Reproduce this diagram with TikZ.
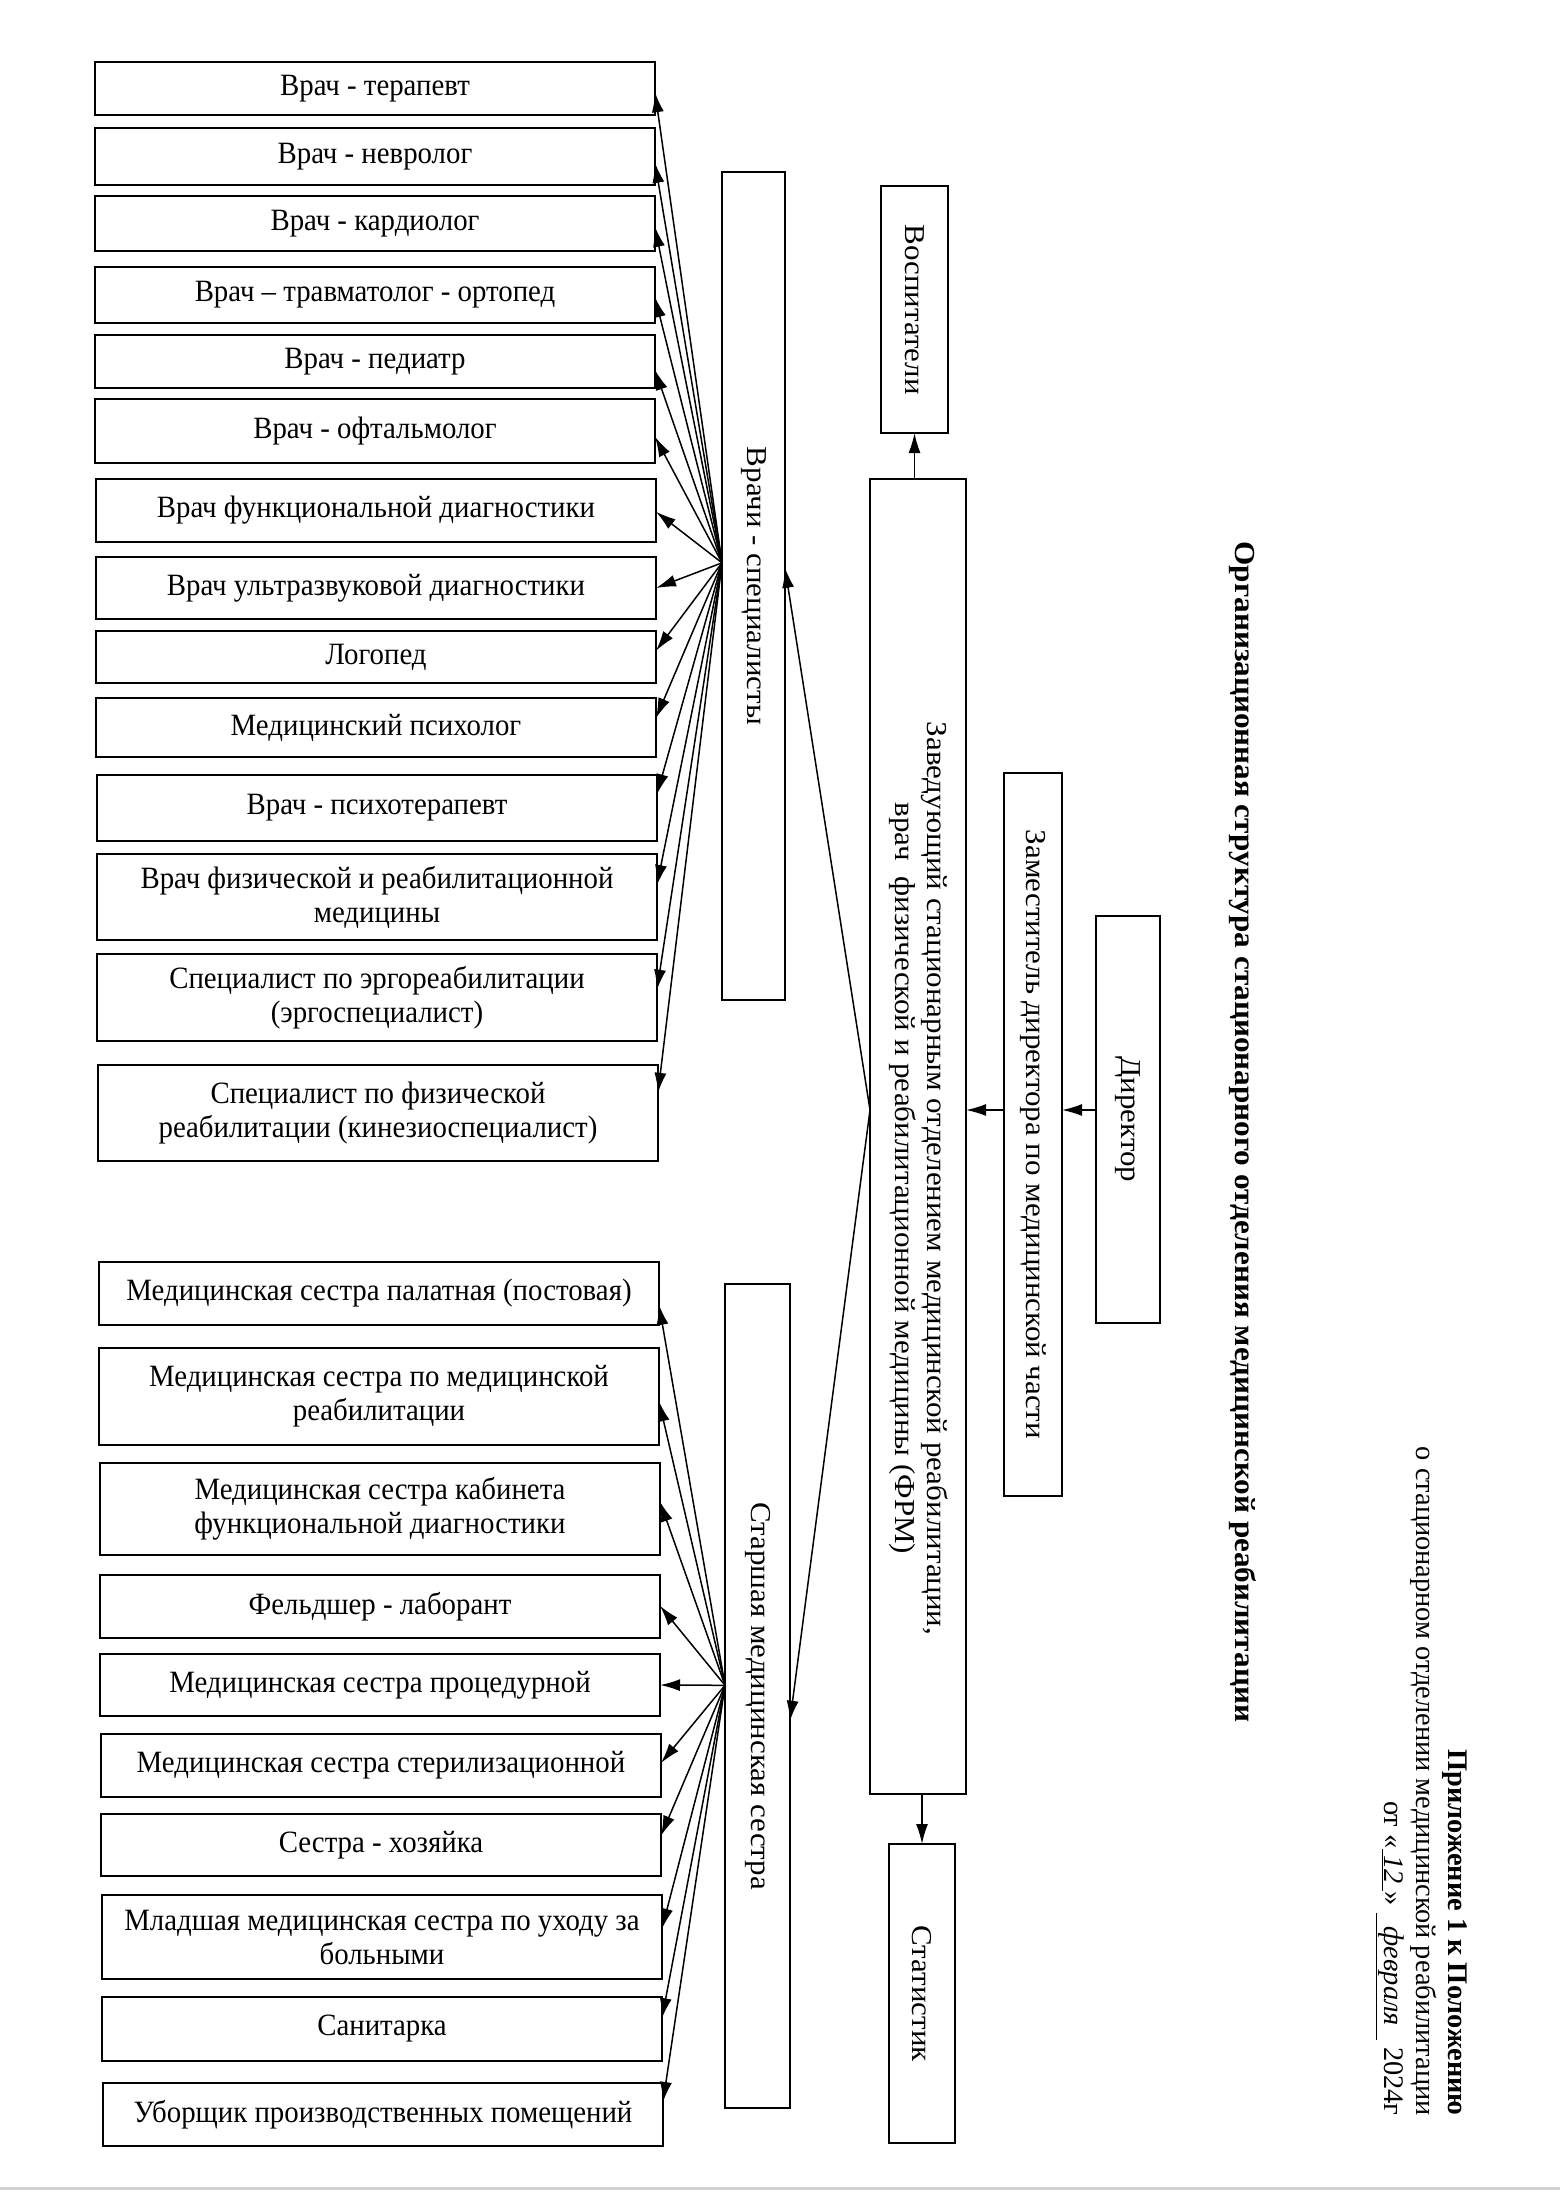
\documentclass[tikz,border=0pt]{standalone}
\usepackage{fontspec}
\setmainfont{Liberation Serif}
\newfontfamily\hfont{Liberation Serif}[FakeStretch=0.93]
\usetikzlibrary{arrows.meta,calc}
\newcommand{\mkbox}[6]{\node[box, minimum width={(#4-#2)*0.5pt}, minimum height={(#5-#3)*0.5pt}] (#1) at ({(#2+#4)/2},{(#3+#5)/2}) {#6};}
\newcommand{\vtext}[1]{\rotatebox{-90}{\scalebox{1}[0.93]{#1}}}
\begin{document}
\begin{tikzpicture}[x=0.5pt,y=-0.5pt,
  box/.style={draw, line width=1pt, inner sep=0pt, outer sep=0pt, align=center, font=\fontsize{15.5}{17}\selectfont\hfont},
  arr/.style={line width=0.75pt, -{Latex[length=10pt,width=6pt]}}]
\useasboundingbox (0,0) rectangle (1560,2200);
% doctors
\mkbox{d1}{95}{62}{655}{115}{Врач - терапевт}
\mkbox{d2}{95}{128}{655}{185}{Врач - невролог}
\mkbox{d3}{95}{196}{655}{251}{Врач - кардиолог}
\mkbox{d4}{95}{267}{655}{323}{Врач – травматолог - ортопед}
\mkbox{d5}{95}{335}{655}{388}{Врач - педиатр}
\mkbox{d6}{95}{399}{655}{463}{Врач - офтальмолог}
\mkbox{d7}{96}{479}{656}{542}{Врач функциональной диагностики}
\mkbox{d8}{96}{557}{656}{619}{Врач ультразвуковой диагностики}
\mkbox{d9}{96}{631}{656}{683}{Логопед}
\mkbox{d10}{96}{698}{656}{757}{Медицинский психолог}
\mkbox{d11}{97}{775}{657}{841}{Врач - психотерапевт}
\mkbox{d12}{97}{854}{657}{940}{Врач физической и реабилитационной\\медицины}
\mkbox{d13}{97}{954}{657}{1041}{Специалист по эргореабилитации\\(эргоспециалист)}
\mkbox{d14}{98}{1065}{658}{1161}{Специалист по физической\\реабилитации (кинезиоспециалист)}
% nurses
\mkbox{n1}{99}{1262}{659}{1325}{Медицинская сестра палатная (постовая)}
\mkbox{n2}{99}{1348}{659}{1445}{Медицинская сестра по медицинской\\реабилитации}
\mkbox{n3}{100}{1463}{660}{1555}{Медицинская сестра кабинета\\функциональной диагностики}
\mkbox{n4}{100}{1575}{660}{1638}{Фельдшер - лаборант}
\mkbox{n5}{100}{1654}{660}{1716}{Медицинская сестра процедурной}
\mkbox{n6}{101}{1734}{661}{1797}{Медицинская сестра стерилизационной}
\mkbox{n7}{101}{1814}{661}{1876}{Сестра - хозяйка}
\mkbox{n8}{102}{1895}{662}{1979}{Младшая медицинская сестра по уходу за\\больными}
\mkbox{n9}{102}{1997}{662}{2061}{Санитарка}
\mkbox{n10}{103}{2083}{663}{2146}{Уборщик производственных помещений}
% central column
\tikzset{box/.append style={font=\fontsize{15.5}{17}\selectfont\rmfamily}}
\mkbox{vrachi}{722}{172}{785}{1000}{\vtext{Врачи - специалисты}}
\mkbox{vosp}{881}{186}{948}{433}{\vtext{Воспитатели}}
\mkbox{zav}{870}{479}{966}{1794}{\vtext{\hspace*{42pt}\begin{tabular}{@{}c@{}}Заведующий стационарным отделением медицинской реабилитации,\\врач\ \ физической и реабилитационной медицины (ФРМ)\end{tabular}}}
\mkbox{zam}{1004}{773}{1062}{1496}{\vtext{Заместитель директора по медицинской части}}
\mkbox{dir}{1096}{916}{1160}{1323}{\vtext{Директор}}
\mkbox{stat}{889}{1844}{955}{2143}{\vtext{Статистик}}
\mkbox{starsh}{725}{1284}{790}{2108}{\vtext{Старшая медицинская сестра}}
% title and note
\node[rotate=-90, font=\fontsize{15.6}{17}\selectfont\bfseries] (title) at (1243,1132) {\scalebox{1}[0.93]{Организационная структура стационарного отделения медицинской реабилитации}};
\node[rotate=-90, anchor=north east, align=right, inner sep=0pt, font=\fontsize{14.2}{16}\selectfont] (note) at (1468,2116)
  {{\bfseries Приложение 1 к Положению}\\о стационарном отделении медицинской реабилитации\\от «\underline{\itshape\ 12\ }» \underline{\itshape\ \ февраля\ \ } 2024г};
% connectors
\coordinate (lvl) at (0,1110);
\draw[arr] (dir.west |- lvl) -- (zam.east |- lvl);
\draw[arr] (zam.west |- lvl) -- (zav.east |- lvl);
\draw[arr] (vosp.south |- zav.north) -- (vosp.south);
\draw[arr] (stat.north |- zav.south) -- (stat.north);
\draw[arr] (zav.west |- lvl) -- ($(vrachi.north east)!0.478!(vrachi.south east)$);
\draw[arr] (zav.west |- lvl) -- ($(starsh.north east)!0.53!(starsh.south east)$);
\coordinate (fanD) at ($(vrachi.north west)!0.472!(vrachi.south west)$);
\foreach \n/\f in {d1/0.57,d2/0.61,d3/0.56,d4/0.54,d5/0.66,d6/0.59,d7/0.52,d8/0.5,d9/0.38,d10/0.34,d11/0.29,d12/0.36,d13/0.41,d14/0.29}
  \draw[arr] (fanD) -- ($(\n.north east)!\f!(\n.south east)$);
\coordinate (fanN) at ($(starsh.north west)!0.487!(starsh.south west)$);
\foreach \n/\f in {n1/0.68,n2/0.55,n3/0.42,n4/0.49,n5/0.5,n6/0.46,n7/0.35,n8/0.40,n9/0.33,n10/0.30}
  \draw[arr] (fanN) -- ($(\n.north east)!\f!(\n.south east)$);
\draw[gray!35, line width=1.5pt] (0,2188) -- (1560,2188);
\end{tikzpicture}
\end{document}
